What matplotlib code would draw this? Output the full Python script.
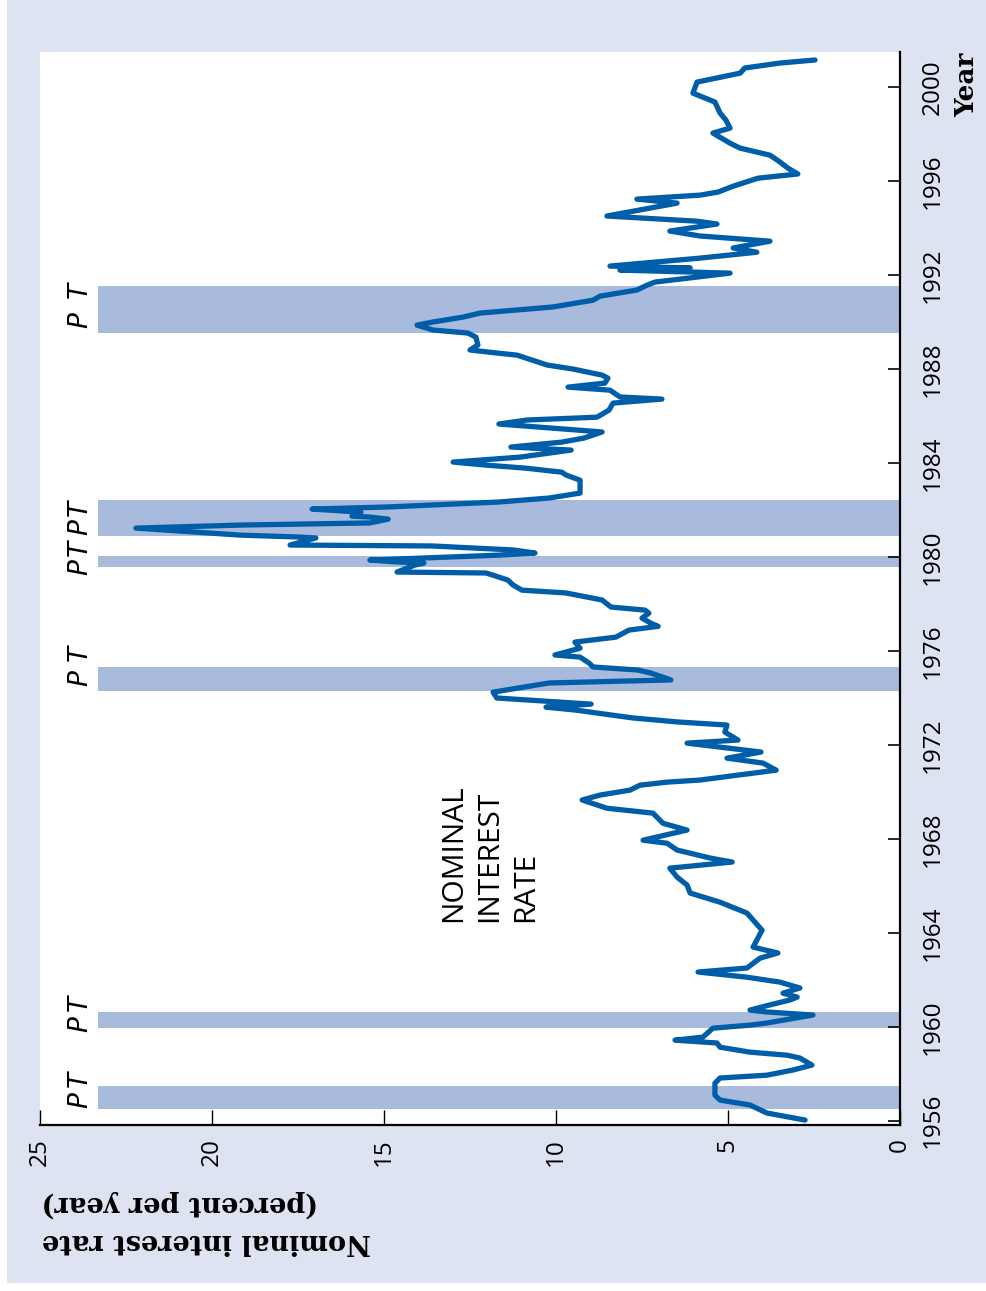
import matplotlib
matplotlib.use("Agg")
import matplotlib.pyplot as plt
from matplotlib.patches import Rectangle

# Nominal interest rate (percent per year), sampled at turning points
years = [
    1956.03, 1956.33, 1956.67, 1956.88, 1957.09, 1957.60, 1957.82, 1957.94, 1958.16, 1958.37,
    1958.67, 1958.79, 1958.92, 1959.13, 1959.31, 1959.43, 1959.56, 1959.94, 1960.07, 1960.16,
    1960.50, 1960.63, 1960.71, 1960.88, 1961.14, 1961.26, 1961.43, 1961.65, 1961.90, 1962.11,
    1962.33, 1962.50, 1962.92, 1963.14, 1963.39, 1964.11, 1964.84, 1965.30, 1965.69, 1966.03,
    1966.37, 1966.75, 1967.01, 1967.18, 1967.52, 1967.81, 1967.94, 1968.37, 1968.66, 1969.09,
    1969.30, 1969.65, 1969.86, 1970.07, 1970.28, 1970.41, 1970.50, 1970.92, 1971.22, 1971.43,
    1971.69, 1972.07, 1972.20, 1972.54, 1972.84, 1972.97, 1973.14, 1973.48, 1973.60, 1973.73,
    1973.99, 1974.24, 1974.63, 1974.76, 1975.05, 1975.18, 1975.31, 1975.48, 1975.73, 1975.82,
    1976.11, 1976.37, 1976.58, 1976.88, 1977.04, 1977.17, 1977.39, 1977.60, 1977.73, 1977.86,
    1978.16, 1978.46, 1978.58, 1978.80, 1979.01, 1979.31, 1979.35, 1979.65, 1979.73, 1979.78,
    1979.86, 1980.07, 1980.16, 1980.29, 1980.46, 1980.50, 1980.80, 1980.84, 1980.92, 1981.22,
    1981.35, 1981.44, 1981.60, 1981.69, 1981.73, 1981.90, 1982.03, 1982.12, 1982.33, 1982.50,
    1982.71, 1983.26, 1983.48, 1983.60, 1983.77, 1983.90, 1984.03, 1984.24, 1984.54, 1984.67,
    1984.88, 1985.05, 1985.31, 1985.65, 1985.82, 1985.94, 1986.24, 1986.54, 1986.71, 1986.80,
    1987.09, 1987.22, 1987.39, 1987.60, 1987.73, 1987.99, 1988.16, 1988.58, 1988.67, 1988.80,
    1989.01, 1989.35, 1989.52, 1989.65, 1989.86, 1989.99, 1990.20, 1990.37, 1990.63, 1990.92,
    1991.09, 1991.35, 1991.56, 1991.69, 1992.07, 1992.20, 1992.29, 1992.37, 1992.71, 1992.96,
    1993.14, 1993.43, 1993.65, 1993.86, 1994.16, 1994.28, 1994.50, 1995.05, 1995.22, 1995.39,
    1995.52, 1995.77, 1996.11, 1996.29, 1996.54, 1996.80, 1997.09, 1997.39, 1997.60, 1998.03,
    1998.24, 1998.58, 1998.88, 1999.35, 1999.73, 2000.20, 2000.58, 2000.80, 2001.01, 2001.14,
]
rates = [
    2.76, 3.87, 4.36, 5.23, 5.38, 5.38, 5.23, 3.87, 3.11, 2.56,
    2.91, 3.28, 4.36, 5.23, 5.32, 6.54, 5.73, 5.44, 4.36, 3.87,
    2.53, 3.87, 4.36, 3.92, 3.20, 2.99, 3.40, 2.91, 3.49, 4.45,
    5.87, 4.45, 4.07, 3.55, 4.27, 4.01, 4.45, 5.23, 6.10, 6.19,
    6.48, 6.69, 4.88, 5.52, 6.48, 6.77, 7.47, 6.19, 6.89, 7.18,
    8.52, 9.24, 8.72, 7.85, 7.56, 6.77, 5.81, 3.60, 3.98, 5.03,
    4.04, 6.19, 4.71, 5.09, 5.03, 6.45, 7.76, 9.45, 10.29, 8.98,
    11.72, 11.83, 10.20, 6.66, 7.24, 7.62, 8.92, 9.04, 9.30, 10.03,
    9.30, 9.45, 8.26, 7.88, 7.03, 7.24, 7.50, 7.30, 7.41, 8.40,
    8.66, 9.71, 10.99, 11.25, 11.40, 12.03, 14.62, 14.10, 13.84, 14.62,
    15.41, 11.66, 10.61, 11.25, 13.60, 17.73, 16.98, 17.47, 19.16, 22.21,
    19.16, 15.41, 14.88, 15.41, 15.93, 15.67, 17.09, 14.88, 11.66, 10.20,
    9.30, 9.30, 9.71, 9.83, 10.87, 12.03, 12.99, 11.05, 9.56, 11.31,
    9.83, 9.19, 8.66, 11.66, 10.84, 8.81, 8.46, 8.34, 6.92, 8.14,
    8.43, 9.65, 8.58, 8.49, 8.66, 9.51, 10.26, 11.13, 11.72, 12.50,
    12.27, 12.33, 12.56, 13.58, 14.04, 13.58, 12.70, 12.21, 10.09, 8.92,
    8.72, 7.65, 7.35, 7.12, 4.94, 8.14, 6.10, 8.43, 5.81, 4.16,
    4.85, 3.78, 5.81, 6.69, 5.32, 5.90, 8.52, 6.48, 7.65, 5.81,
    5.29, 4.85, 4.13, 2.97, 3.26, 3.49, 3.78, 4.65, 4.94, 5.44,
    4.94, 5.06, 5.23, 5.38, 6.02, 5.90, 4.65, 4.51, 3.49, 2.47,
]

# Business-cycle peaks (P) and troughs (T): shaded recession spans
recession_starts = [1956.50, 1959.96, 1974.29, 1979.56, 1980.88, 1989.52]
recession_ends = [1957.48, 1960.62, 1975.31, 1980.03, 1982.41, 1991.52]
peak_label_years = [1956.87, 1960.11, 1974.83, 1979.56, 1981.26, 1990.07]
trough_label_years = [1957.78, 1961.01, 1975.90, 1980.37, 1982.07, 1991.35]

year_ticks = list(range(1956, 2001, 4))
rate_ticks = [0, 5, 10, 15, 20, 25]

BG = "#DDE3F0"
BAND = "#A9BBDC"
LINE = "#005DA8"
SANS = "Open Sans"
SERIF = "DejaVu Serif"

fig = plt.figure(figsize=(9.87, 12.91), dpi=100, facecolor=BG)

# thin white margin on the left and bottom edges of the panel
fig.patches.append(Rectangle((0, 0), 7 / 987, 1, transform=fig.transFigure,
                             facecolor="white", edgecolor="none", zorder=0))
fig.patches.append(Rectangle((0, 0), 1, 8 / 1291, transform=fig.transFigure,
                             facecolor="white", edgecolor="none", zorder=0))

ax = fig.add_axes([0.04053, 0.12858, 0.87132, 0.83114])
ax.set_facecolor("white")
ax.set_xlim(25, 0)
ax.set_ylim(1955.82, 2001.48)

band_reach = 23.3
for start, end in zip(recession_starts, recession_ends):
    ax.fill_betweenx([start, end], band_reach, 0, color=BAND, lw=0, zorder=1)

ax.plot(rates, years, color=LINE, lw=3.8, solid_joinstyle="round",
        solid_capstyle="round", zorder=3)

label_rate = 23.84
for y in peak_label_years:
    ax.text(label_rate, y, "P", rotation=90, ha="center", va="center",
            fontsize=19, style="italic", family="DejaVu Sans", zorder=4)
for y in trough_label_years:
    ax.text(label_rate, y, "T", rotation=90, ha="center", va="center",
            fontsize=19, style="italic", family="DejaVu Sans", zorder=4)

ax.text(11.93, 1964.46, "NOMINAL\nINTEREST\nRATE", rotation=90,
        ha="center", va="bottom", multialignment="left", fontsize=21.5,
        family=SANS, linespacing=1.32, zorder=4)

for side in ("top", "left"):
    ax.spines[side].set_visible(False)
for side in ("right", "bottom"):
    ax.spines[side].set_linewidth(1.6)
    ax.spines[side].set_zorder(5)

ax.yaxis.tick_right()
ax.set_yticks(year_ticks)
ax.set_yticklabels([str(y) for y in year_ticks], rotation=90, va="center",
                   ha="left", fontsize=17.5, family=SANS)
ax.tick_params(axis="y", direction="in", length=8.6, width=1.2, pad=15,
               right=True, left=False)

ax.set_xticks(rate_ticks)
ax.set_xticklabels([str(r) for r in rate_ticks], rotation=90, ha="center",
                   va="top", fontsize=17.5, family=SANS)
ax.tick_params(axis="x", direction="in", length=10.8, width=1.0, pad=9.4)

fig.text(967 / 987, 1 - 85 / 1291, "Year", rotation=90, ha="center",
         va="center", fontsize=19, fontweight="bold", family=SERIF)
fig.text(42 / 987, 1 - 1242 / 1291, "Nominal interest rate", rotation=180,
         ha="left", va="center", fontsize=19.5, fontweight="bold", family=SERIF)
fig.text(42 / 987, 1 - 1204 / 1291, "(percent per year)", rotation=180,
         ha="left", va="center", fontsize=19.5, fontweight="bold", family=SERIF)

fig.savefig("out.png", dpi=100, facecolor=BG)
